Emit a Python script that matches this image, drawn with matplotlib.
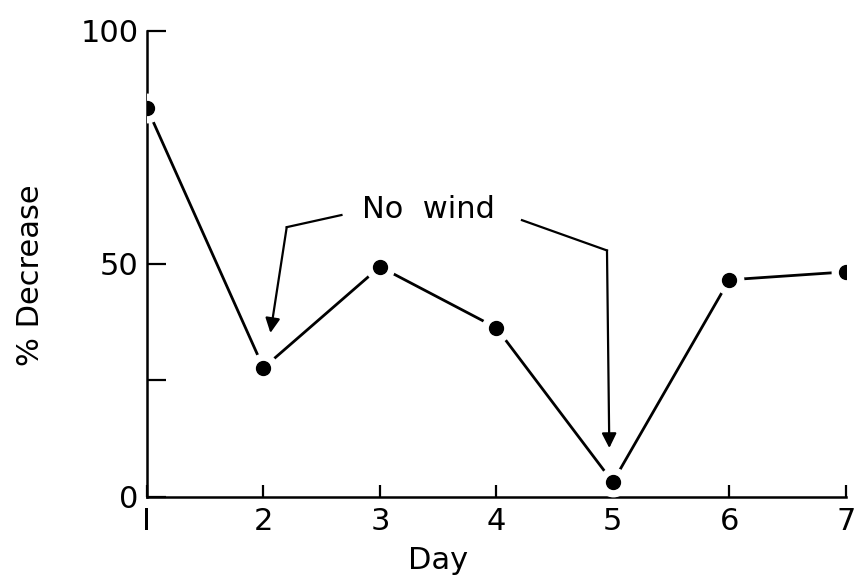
import matplotlib
matplotlib.use("Agg")
import matplotlib.pyplot as plt

days = [1, 2, 3, 4, 5, 6, 7]
pct_decrease = [83.5, 27.7, 49.4, 36.3, 3.2, 46.6, 48.3]

ytick_vals = [0, 25, 50, 100]
ytick_labels = ["0", "", "50", "100"]
xtick_labels = ["I", "2", "3", "4", "5", "6", "7"]

note_text = "No  wind"
note_xy = (3.42, 61.6)
# arrow paths (start, corner, tip) in data units
arrow_paths = [
    [(2.67, 60.5), (2.20, 57.9), (2.06, 35.2)],
    [(4.22, 59.4), (4.95, 52.9), (4.97, 10.5)],
]

plt.rcParams["font.family"] = ["DejaVu Sans"]

fig = plt.figure(figsize=(8.56, 5.84), dpi=100)
ax = fig.add_axes([0.1717, 0.149, 0.8163, 0.798])

ax.plot(days, pct_decrease, color="black", lw=2.0, zorder=2)
ax.scatter(days, pct_decrease, s=420, color="white", zorder=3)
ax.scatter(days, pct_decrease, s=100, color="black", zorder=4)

for path in arrow_paths:
    (x0, y0), (x1, y1), (x2, y2) = path
    ax.plot([x0, x1], [y0, y1], color="black", lw=1.6, zorder=2)
    ax.annotate("", xy=(x2, y2), xytext=(x1, y1),
                arrowprops=dict(arrowstyle="-|>", color="black", lw=1.6,
                                mutation_scale=22, shrinkA=0, shrinkB=0))

ax.text(note_xy[0], note_xy[1], note_text, ha="center", va="center", fontsize=22)

ax.set_xlim(1, 7)
ax.set_ylim(0, 100)
ax.set_xticks(days)
ax.set_xticklabels(xtick_labels)
ax.set_yticks(ytick_vals)
ax.set_yticklabels(ytick_labels)

for side in ("top", "right"):
    ax.spines[side].set_visible(False)
for side in ("left", "bottom"):
    ax.spines[side].set_linewidth(1.8)

ax.tick_params(axis="x", direction="in", length=9, width=1.6, labelsize=22, pad=7)
ax.tick_params(axis="y", direction="in", length=14, width=1.6, labelsize=22, pad=6)

ax.set_xlabel("Day", fontsize=22)
ax.xaxis.set_label_coords(0.416, -0.105)
ax.set_ylabel("% Decrease", fontsize=22)
ax.yaxis.set_label_coords(-0.146, 0.476)

fig.savefig("out.png", dpi=100)
